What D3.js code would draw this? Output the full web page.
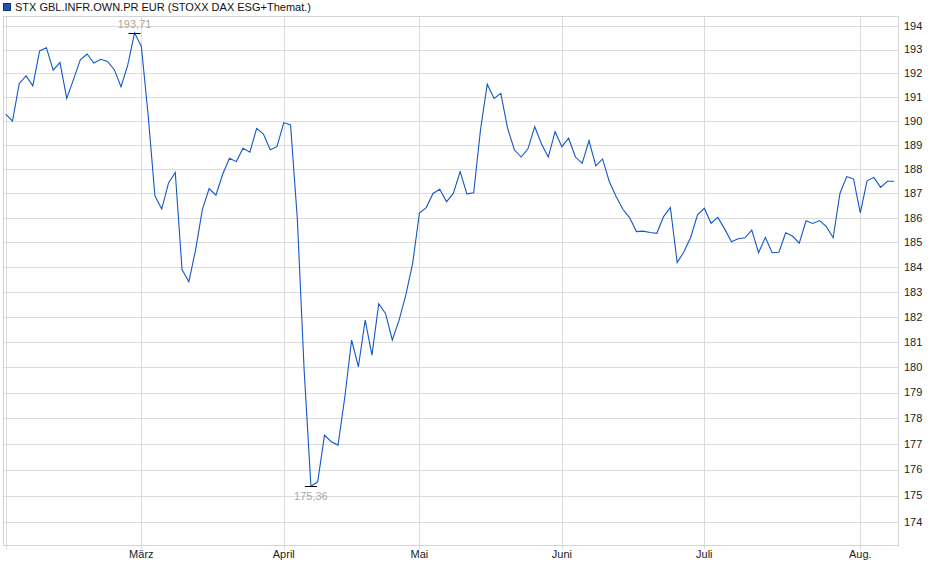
<!DOCTYPE html>
<html>
<head>
<meta charset="utf-8">
<script src="https://cdn.jsdelivr.net/npm/d3@7"></script>
<style>
  body { margin: 0; background: #fff; }
  svg { display: block; font-family: "Liberation Sans", Arial, sans-serif; }
</style>
</head>
<body>
<div id="chart"></div>
<script>
// closing prices, one per trading day (Feb .. Aug.)
const febValues = [190.28, 189.99, 191.57, 191.89, 191.47, 192.94, 193.08, 192.13, 192.45, 190.94,
  191.74, 192.56, 192.81, 192.43, 192.59, 192.50, 192.16, 191.43, 192.35, 193.71];
const marValues = [193.13, 190.25, 186.90, 186.36, 187.42, 187.86, 183.90, 183.41, 184.70, 186.35,
  187.20, 186.93, 187.80, 188.45, 188.31, 188.86, 188.70, 189.69, 189.45, 188.80, 188.93];
const aprValues = [189.93, 189.83, 185.95, 179.90, 175.36, 175.53, 177.34, 177.08, 176.95, 178.83,
  181.08, 180.02, 181.87, 180.48, 182.53, 182.14, 181.08, 181.87, 182.88, 184.15];
const mayValues = [186.20, 186.42, 187.00, 187.17, 186.66, 187.00, 187.90, 186.98, 187.03, 189.62,
  191.54, 190.94, 191.15, 189.69, 188.80, 188.50, 188.84, 189.76, 189.04, 188.50, 189.55];
const junValues = [188.93, 189.28, 188.50, 188.24, 189.18, 188.13, 188.42, 187.48, 186.87, 186.35,
  186.00, 185.44, 185.46, 185.40, 185.37, 186.05, 186.43, 184.18, 184.62, 185.21, 186.12];
const julValues = [186.39, 185.78, 186.02, 185.55, 185.03, 185.15, 185.19, 185.50, 184.58, 185.21,
  184.58, 184.60, 185.39, 185.26, 184.97, 185.88, 185.77, 185.89, 185.64, 185.19, 187.00, 187.69, 187.60];
const augValues = [186.20, 187.52, 187.66, 187.25, 187.50, 187.50];

const monthLabels = ["März", "April", "Mai", "Juni", "Juli", "Aug."];
const yTicks = [174, 175, 176, 177, 178, 179, 180, 181, 182, 183, 184,
  185, 186, 187, 188, 189, 190, 191, 192, 193, 194];
const seriesName = "STX GBL.INFR.OWN.PR EUR (STOXX DAX ESG+Themat.)";

const months = [febValues, marValues, aprValues, mayValues, junValues, julValues, augValues];
const values = months.flat();
// index of first trading day of each labelled month
const monthStarts = [];
let acc = 0;
months.forEach((m, i) => { if (i > 0) monthStarts.push(acc); acc += m.length; });

const W = 940, H = 579;
const frame = { left: 3.5, right: 898.5, top: 16.5, bottom: 545.5 };

const svg = d3.select("#chart").append("svg")
  .attr("width", W).attr("height", H);

const x = d3.scaleLinear()
  .domain([0, values.length - 1])
  .range([5.7, 894.2]);

const y = d3.scaleLog()
  .domain([174, 194])
  .range([521.7, 26]);

// horizontal grid
svg.append("g")
  .selectAll("line")
  .data(yTicks)
  .enter().append("line")
  .attr("x1", frame.left).attr("x2", frame.right)
  .attr("y1", d => Math.round(y(d)) + 0.5).attr("y2", d => Math.round(y(d)) + 0.5)
  .style("stroke", "#dcdcdc").style("stroke-width", 1);

// vertical month grid
svg.append("g")
  .selectAll("line")
  .data([0].concat(monthStarts))
  .enter().append("line")
  .attr("x1", d => Math.round(x(d)) + 0.5).attr("x2", d => Math.round(x(d)) + 0.5)
  .attr("y1", frame.top).attr("y2", frame.bottom + 4)
  .style("stroke", "#dcdcdc").style("stroke-width", 1);

// frame
svg.append("rect")
  .attr("x", frame.left).attr("y", frame.top)
  .attr("width", frame.right - frame.left).attr("height", frame.bottom - frame.top)
  .style("fill", "none").style("stroke", "#d4d4d4");

// y labels on the right
svg.append("g")
  .selectAll("text")
  .data(yTicks)
  .enter().append("text")
  .attr("x", 904)
  .attr("y", d => y(d))
  .attr("dy", "0.35em")
  .style("font-size", "11px")
  .style("fill", "#222")
  .text(d => d);

// month labels
svg.append("g")
  .selectAll("text")
  .data(monthStarts)
  .enter().append("text")
  .attr("x", d => x(d))
  .attr("y", 558)
  .attr("text-anchor", "middle")
  .style("font-size", "11px")
  .style("fill", "#222")
  .text((d, i) => monthLabels[i]);

// the line
const line = d3.line()
  .x((d, i) => x(i))
  .y(d => y(d));

svg.append("path")
  .datum(values)
  .attr("d", line)
  .style("fill", "none")
  .style("stroke", "#1457c8")
  .style("stroke-width", 1.1);

// high / low markers
const maxI = d3.maxIndex(values), minI = d3.minIndex(values);
const fmt = v => v.toFixed(2).replace(".", ",");

svg.append("line")
  .attr("x1", x(maxI) - 6).attr("x2", x(maxI) + 6)
  .attr("y1", Math.round(y(values[maxI])) + 0.5).attr("y2", Math.round(y(values[maxI])) + 0.5)
  .style("stroke", "#000");
svg.append("text")
  .attr("x", x(maxI)).attr("y", y(values[maxI]) - 5)
  .attr("text-anchor", "middle")
  .style("font-size", "11px").style("fill", "#b4a48e")
  .text(fmt(values[maxI]));

svg.append("line")
  .attr("x1", x(minI) - 6).attr("x2", x(minI) + 6)
  .attr("y1", Math.round(y(values[minI])) + 0.5).attr("y2", Math.round(y(values[minI])) + 0.5)
  .style("stroke", "#000");
svg.append("text")
  .attr("x", x(minI)).attr("y", y(values[minI]) + 14)
  .attr("text-anchor", "middle")
  .style("font-size", "11px").style("fill", "#a3a9b3")
  .text(fmt(values[minI]));

// legend
svg.append("rect")
  .attr("x", 3.5).attr("y", 3.5).attr("width", 7).attr("height", 7)
  .style("fill", "#1d55b8").style("stroke", "#13306a");
svg.append("text")
  .attr("x", 15).attr("y", 11)
  .style("font-size", "11px").style("fill", "#111")
  .text(seriesName);
</script>
</body>
</html>
